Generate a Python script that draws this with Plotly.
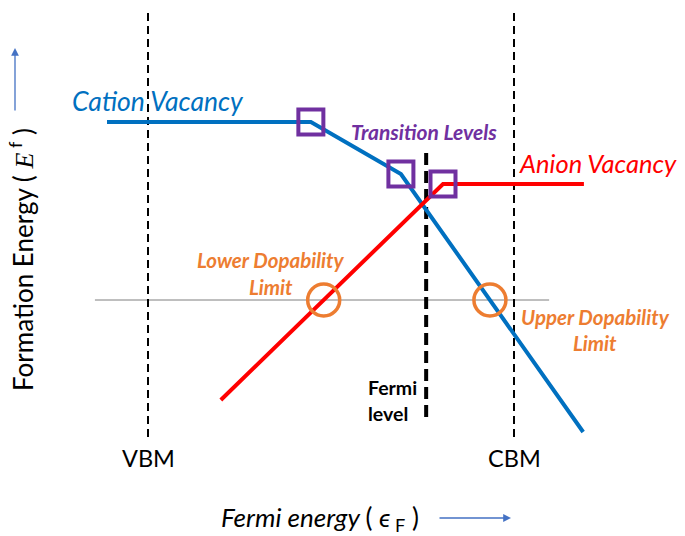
import numpy as np
import plotly.graph_objects as go

# ---- data (x: Fermi energy, VBM = 0, CBM = 1; y: formation energy, arbitrary units) ----
cation_x = [-0.112, 0.445, 0.691, 1.189]
cation_y = [1.78, 1.78, 1.26, -1.32]
anion_x = [0.199, 0.806, 1.191]
anion_y = [-1.00, 1.16, 1.16]
vbm_x = 0.0
cbm_x = 1.0
fermi_level_x = 0.760
fermi_level_y = [1.47, -1.20]
band_edge_y = [3.0, -1.40]
dopability_y = 0.0
dopability_line_x = [-0.145, 1.096]
band_labels = ["VBM", "CBM"]

# ---- helpers: layout placement in page-pixel terms (for text only) ----
PAGE_W, PAGE_H = 685, 536
OFF = 8  # default body margin of the html page
W, H = PAGE_W - OFF, PAGE_H - OFF
X0, XS = 148, 366
Y0, YS = 300, 100


def X(px):
    return (px - X0) / XS


def Y(py):
    return (Y0 - py) / YS


BLUE = "#0070C0"
RED = "#FF0000"
PURPLE = "#7030A0"
ORANGE = "#ED7D31"
ARROW = "#4472C4"
FONT = "Lato, 'Open Sans', sans-serif"

fig = go.Figure()

# reference horizontal line (dopability level)
fig.add_trace(go.Scatter(x=dopability_line_x, y=[dopability_y, dopability_y], mode="lines",
                         line=dict(color="#7F7F7F", width=1), hoverinfo="skip"))
# VBM / CBM dashed lines
for bx in [vbm_x, cbm_x]:
    fig.add_trace(go.Scatter(x=[bx, bx], y=band_edge_y, mode="lines",
                             line=dict(color="black", width=2, dash="8px,5px"), hoverinfo="skip"))
# Fermi level dashed line
fig.add_trace(go.Scatter(x=[fermi_level_x, fermi_level_x], y=fermi_level_y, mode="lines",
                         line=dict(color="black", width=4, dash="12px,6px"), hoverinfo="skip"))
# defect lines
fig.add_trace(go.Scatter(x=cation_x, y=cation_y, mode="lines",
                         line=dict(color=BLUE, width=4), hoverinfo="skip"))
fig.add_trace(go.Scatter(x=anion_x, y=anion_y, mode="lines",
                         line=dict(color=RED, width=4), hoverinfo="skip"))

# transition levels (kinks)
tl_x = [cation_x[1], cation_x[2], anion_x[1]]
tl_y = [cation_y[1], cation_y[2], anion_y[1]]
fig.add_trace(go.Scatter(x=tl_x, y=tl_y, mode="markers",
                         marker=dict(symbol="square-open", size=25, color=PURPLE,
                                     line=dict(color=PURPLE, width=4)), hoverinfo="skip"))

# dopability limits: crossings of defect lines with the reference level
ay = np.array(anion_y[:2]); ax_ = np.array(anion_x[:2])
lower_x = float(np.interp(dopability_y, ay, ax_))
cy = np.array(cation_y[2:][::-1]); cx = np.array(cation_x[2:][::-1])
upper_x = float(np.interp(dopability_y, cy, cx))
fig.add_trace(go.Scatter(x=[lower_x, upper_x], y=[dopability_y, dopability_y], mode="markers",
                         marker=dict(symbol="circle-open", size=32, color=ORANGE,
                                     line=dict(color=ORANGE, width=3.5)), hoverinfo="skip"))

ann = []


def text(px, py, s, size, color="black", xanchor="center", bold=False, italic=False):
    if bold:
        s = "<b>" + s + "</b>"
    if italic:
        s = "<i>" + s + "</i>"
    ann.append(dict(x=X(px), y=Y(py), xref="x", yref="y", text=s, showarrow=False,
                    xanchor=xanchor, yanchor="middle",
                    font=dict(family=FONT, size=size, color=color)))


text(158, 101, "Cation Vacancy", 26.5, BLUE, italic=True)
text(517, 163, "Anion Vacancy", 25.5, RED, xanchor="left", italic=True)
text(424, 131, "Transition Levels", 21, PURPLE, bold=True, italic=True)
text(271, 260, "Lower Dopability", 20.5, ORANGE, bold=True, italic=True)
text(271, 287, "Limit", 20.5, ORANGE, bold=True, italic=True)
text(595, 317, "Upper Dopability", 20.5, ORANGE, bold=True, italic=True)
text(595, 343, "Limit", 20.5, ORANGE, bold=True, italic=True)
text(366, 387, "Fermi", 19.5, "black", xanchor="left", bold=True)
text(366, 413, "level", 19.5, "black", xanchor="left", bold=True)
ann.append(dict(x=vbm_x, y=Y(458), xref="x", yref="y", text=band_labels[0], showarrow=False,
                font=dict(family=FONT, size=23.5, color="black")))
ann.append(dict(x=cbm_x, y=Y(458), xref="x", yref="y", text=band_labels[1], showarrow=False,
                font=dict(family=FONT, size=23.5, color="black")))
text(320, 518, "<i>Fermi energy </i>( <i>ϵ</i><sub> F</sub> )", 26, "black")
ann.append(dict(x=X(21), y=Y(260), xref="x", yref="y", textangle=-90, showarrow=False,
                text="Formation Energy ( <i><span style='font-family:Liberation Serif'>E</span></i><sup> f</sup> )",
                font=dict(family=FONT, size=26, color="black")))
# axis direction arrows
ann.append(dict(x=X(511), y=Y(518), ax=X(438), ay=Y(518), xref="x", yref="y", axref="x", ayref="y",
                text="", showarrow=True, arrowhead=2, arrowsize=1.2, arrowwidth=1.3, arrowcolor=ARROW))
ann.append(dict(x=X(15), y=Y(48), ax=X(15), ay=Y(112), xref="x", yref="y", axref="x", ayref="y",
                text="", showarrow=True, arrowhead=2, arrowsize=1.2, arrowwidth=1.3, arrowcolor=ARROW))

fig.update_layout(
    width=W, height=H, margin=dict(l=0, r=0, t=0, b=0),
    paper_bgcolor="white", plot_bgcolor="white", showlegend=False,
    xaxis=dict(range=[X(OFF), X(PAGE_W)], visible=False, fixedrange=True),
    yaxis=dict(range=[Y(PAGE_H), Y(OFF)], visible=False, fixedrange=True),
    annotations=ann,
)

fig.write_html("out.html")
